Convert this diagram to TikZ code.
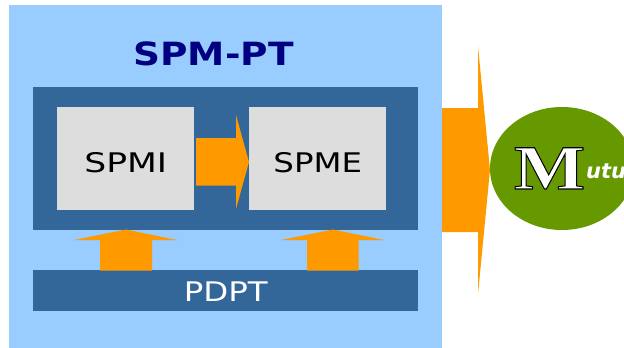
\documentclass[tikz,border=0pt]{standalone}
\usetikzlibrary{shapes.geometric}
\usepackage{fontspec}
\setmainfont{DejaVu Sans}
\newfontfamily\wideface[FakeStretch=1.2]{DejaVu Sans}
\newfontfamily\widerface[FakeStretch=1.28]{DejaVu Sans}
\newfontfamily\headface[FakeStretch=1.17]{DejaVu Sans}
\newfontfamily\capface[FakeStretch=1.2,FakeBold=1.6]{Liberation Serif}
\definecolor{skyback}{HTML}{99CCFF}
\definecolor{steel}{HTML}{336699}
\definecolor{paleg}{HTML}{DDDDDD}
\definecolor{amber}{HTML}{FF9900}
\definecolor{leaf}{HTML}{669900}
\definecolor{deepnavy}{HTML}{000080}
\tikzset{
  panel/.style={draw=none,inner sep=0pt,anchor=north west},
  graybox/.style={panel,fill=paleg,text=black,minimum width=137pt,minimum height=103pt,text height=27pt,text depth=0pt},
  blockarrow/.style={fill=amber,draw=none}
}
\begin{document}
\begin{tikzpicture}[x=1pt,y=-1pt]
\useasboundingbox (0,0) rectangle (624,348);
\clip (0,0) rectangle (624,348);
\node[panel,fill=skyback,minimum width=433pt,minimum height=343pt] (outer) at (9,5) {};
\node[inner sep=0pt,text=deepnavy,font=\headface\bfseries\fontsize{32}{32}\selectfont] (title) at (213.5,53.5) {SPM-PT};
\node[panel,fill=steel,minimum width=385pt,minimum height=143pt] (core) at (33,87) {};
\node[graybox,font=\widerface\fontsize{27}{27}\selectfont] (spmi) at (57,107) {SPMI};
\node[graybox,font=\wideface\fontsize{27}{27}\selectfont] (spme) at (249,107) {SPME};
\node[panel,fill=steel,minimum width=385pt,minimum height=41pt,text=white,text height=21pt,text depth=0pt,font=\wideface\fontsize{27}{27}\selectfont] (pdpt) at (33,270) {PDPT};
\node[fill=leaf,draw=none,ellipse,minimum width=144pt,minimum height=123pt,inner sep=0pt] (mut) at (562,168.5) {};
\fill[blockarrow] (196,138) -- (236,138) -- (236,115) -- (249,162) -- (236,209) -- (236,185.5) -- (196,185.5) -- cycle;
\fill[blockarrow] (100,270.5) -- (100,240) -- (74,240) -- (126,229.5) -- (177,240) -- (152,240) -- (152,270.5) -- cycle;
\fill[blockarrow] (307,270.5) -- (307,240) -- (281,240) -- (333,229.5) -- (384,240) -- (358.5,240) -- (358.5,270.5) -- cycle;
\fill[blockarrow] (442,108) -- (478,108) -- (478,46) -- (490,170) -- (478,294) -- (478,232) -- (442,232) -- cycle;
\node[inner sep=0pt,anchor=base,font=\capface\bfseries\fontsize{63}{63}\selectfont] (capm) at (549.5,189) {\special{pdf:code q 0 0 0 RG 1 1 1 rg}M\special{pdf:code Q}};
\node[inner sep=0pt,anchor=base west,text=white,font=\bfseries\itshape\fontsize{21}{21}\selectfont] (rest) at (586,178) {utu};
\end{tikzpicture}
\end{document}
